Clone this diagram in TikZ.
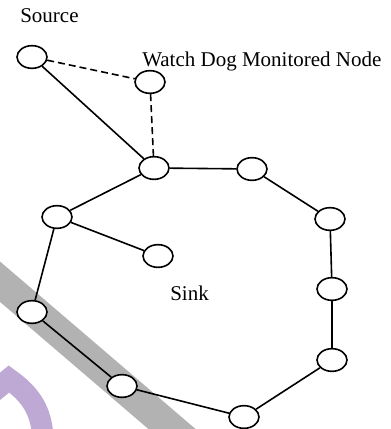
\documentclass[tikz,border=0pt]{standalone}
\usepackage{fontspec}
\setmainfont{Liberation Serif}
\usetikzlibrary{shapes.geometric}

\definecolor{wmgray}{RGB}{178,178,178}
\definecolor{wmpurple}{RGB}{190,168,212}

\tikzset{
	mote/.style={draw, fill=white, ellipse, line width=1.2pt,
		minimum width=22.5pt, minimum height=17pt, inner sep=0pt},
	link/.style={line width=1.2pt},
	watch/.style={link, dash pattern=on 5.25pt off 3pt},
	caption/.style={anchor=base west, inner sep=0pt,
		font=\fontsize{15.75}{18}\selectfont},
}

\begin{document}
\begin{tikzpicture}[x=0.75pt, y=-0.75pt]
	\useasboundingbox (0,0) rectangle (391,429);
	%% background marks
	\begin{scope}
		\clip (0,0) rectangle (391,429);
		\draw[wmgray, line width=23pt] (-30,256) -- (200,453);
		\draw[wmpurple, line width=16pt] (-12,396) -- (9,379)
			.. controls (30,394) and (42,410) .. (43,440);
	\end{scope}
	%% nodes
	\node[mote] (src) at (32,57) {};
	\node[mote] (wd)  at (150,82) {};
	\node[mote] (hub) at (154,168) {};
	\node[mote] (n1)  at (252,169) {};
	\node[mote] (n2)  at (330,219) {};
	\node[mote] (n3)  at (332,289) {};
	\node[mote] (n4)  at (332,360) {};
	\node[mote] (n5)  at (244,417) {};
	\node[mote] (n6)  at (122,386) {};
	\node[mote] (n7)  at (32,312) {};
	\node[mote] (n8)  at (57,217) {};
	\node[mote] (snk) at (158,256) {};
	%% labels
	\node[caption] (lsrc) at (20,22) {Source};
	\node[caption] (lwd)  at (142,66) {Watch Dog Monitored Node};
	\node[caption] (lsnk) at (170,300) {Sink};
	% links between the nodes
	\draw[link] (src) -- (hub);
	\draw[watch] (src) -- (wd);
	\draw[watch] (wd) -- (hub);
	\draw[link] (hub) -- (n1) -- (n2) -- (n3) -- (n4) -- (n5) -- (n6) -- (n7) -- (n8) -- (hub);
	\draw[link] (n8) -- (snk);
\end{tikzpicture}
\end{document}
